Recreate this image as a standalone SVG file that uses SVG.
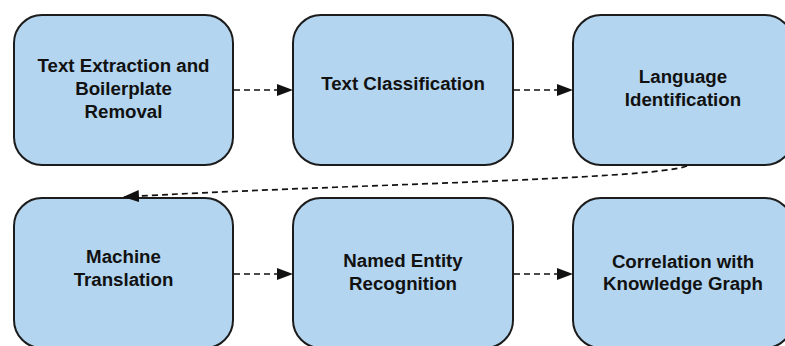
<svg xmlns="http://www.w3.org/2000/svg" width="785" height="346" viewBox="0 0 785 346">
<style>
.box{fill:#b3d5ef;stroke:#1c1c1c;stroke-width:2}
.lbl{font-family:"Liberation Sans",Arial,sans-serif;font-weight:bold;font-size:18.7px;fill:#111;text-anchor:middle}
.con{fill:none;stroke:#111;stroke-width:1.7;stroke-dasharray:6,4}
</style>
<defs>
<marker id="ah" markerWidth="16" markerHeight="12" refX="15" refY="6" orient="auto" markerUnits="userSpaceOnUse">
<path d="M0,0 L16,6 L0,12 Z" fill="#111"/>
</marker>
</defs>
<rect width="785" height="346" fill="#fff"/>
<g id="n1"><rect class="box" x="14" y="15" width="219" height="150" rx="28"/>
<text class="lbl" x="123.5" y="72">Text Extraction and</text>
<text class="lbl" x="123.5" y="95">Boilerplate</text>
<text class="lbl" x="123.5" y="118">Removal</text></g>
<g id="n2"><rect class="box" x="293" y="15" width="220" height="150" rx="28"/>
<text class="lbl" x="403" y="90">Text Classification</text></g>
<g id="n3"><rect class="box" x="573" y="15" width="220" height="150" rx="28"/>
<text class="lbl" x="683" y="83">Language</text>
<text class="lbl" x="683" y="106">Identification</text></g>
<g id="n4"><rect class="box" x="14" y="198" width="219" height="150" rx="28"/>
<text class="lbl" x="123.5" y="263">Machine</text>
<text class="lbl" x="123.5" y="286">Translation</text></g>
<g id="n5"><rect class="box" x="293" y="198" width="220" height="150" rx="28"/>
<text class="lbl" x="403" y="267">Named Entity</text>
<text class="lbl" x="403" y="290">Recognition</text></g>
<g id="n6"><rect class="box" x="573" y="198" width="220" height="150" rx="28"/>
<text class="lbl" x="683" y="268">Correlation with</text>
<text class="lbl" x="683" y="290">Knowledge Graph</text></g>
<g id="connectors">
<path class="con" d="M234,90 L292,90" marker-end="url(#ah)"/>
<path class="con" d="M514,90 L572,90" marker-end="url(#ah)"/>
<path class="con" d="M234,274 L292,274" marker-end="url(#ah)"/>
<path class="con" d="M514,274 L572,274" marker-end="url(#ah)"/>
<path class="con" d="M687,166 C650,180 320,185 124,197" marker-end="url(#ah)"/>
</g>
</svg>
